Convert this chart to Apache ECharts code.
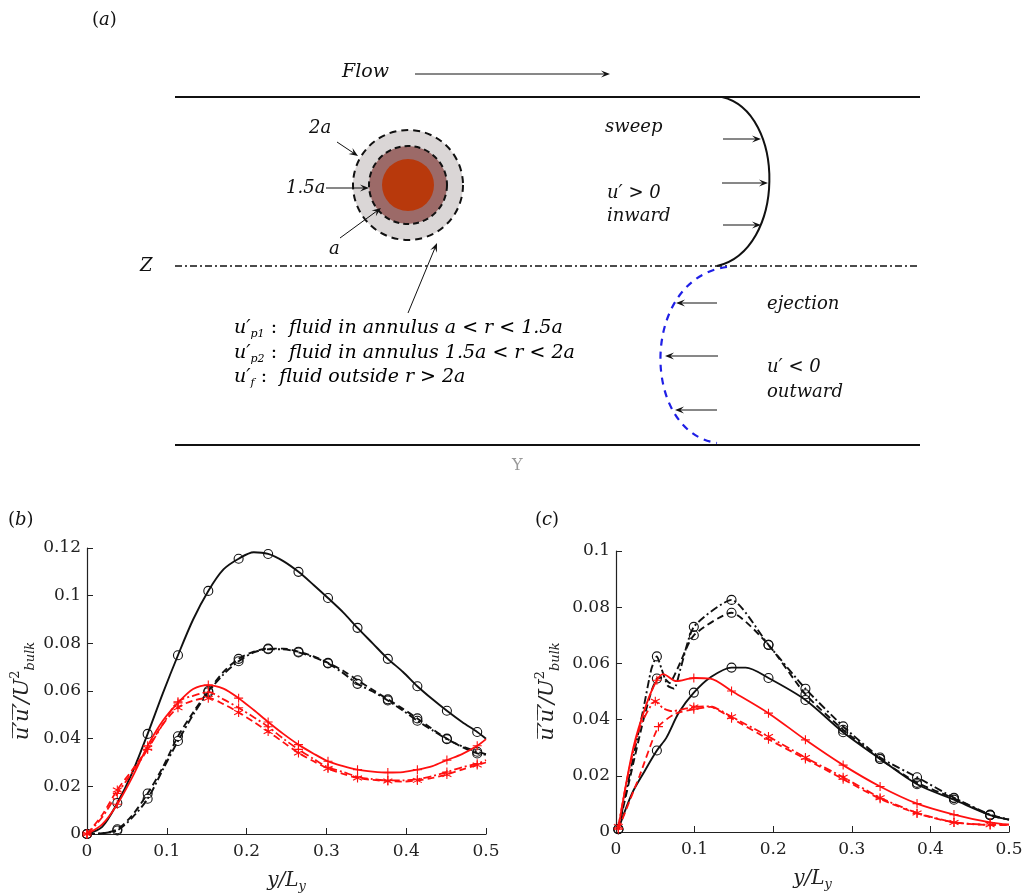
<!DOCTYPE html>
<html>
<head>
<meta charset="utf-8">
<script src="https://cdn.jsdelivr.net/npm/echarts@6/dist/echarts.min.js"></script>
<style>
html, body { margin: 0; padding: 0; background: #fff; }
#main { width: 1034px; height: 894px; }
</style>
</head>
<body>
<div id="main"></div>
<script>
// ---- panel (b) : abscissae shared by every curve, markers on every other point ----
const bX = [0, 0.019, 0.038, 0.057, 0.076, 0.095, 0.114, 0.133, 0.152, 0.171, 0.19, 0.209, 0.227, 0.246,
            0.265, 0.284, 0.302, 0.321, 0.339, 0.358, 0.377, 0.396, 0.414, 0.433, 0.451, 0.47, 0.489, 0.5];
const bMarkX = [0, 0.038, 0.076, 0.114, 0.152, 0.19, 0.227, 0.265, 0.302, 0.339, 0.377, 0.414, 0.451, 0.489];
const bBlackSolid   = [0, 0.003, 0.013, 0.026, 0.042, 0.059, 0.075, 0.090, 0.102, 0.111, 0.1155, 0.1182, 0.1175, 0.1145,
                       0.110, 0.1045, 0.099, 0.093, 0.0865, 0.080, 0.0735, 0.068, 0.062, 0.0565, 0.0517, 0.047, 0.0428, 0.040];
const bBlackDash    = [0, 0.0003, 0.002, 0.008, 0.017, 0.028, 0.041, 0.051, 0.060, 0.068, 0.0735, 0.0765, 0.0778, 0.0778,
                       0.0765, 0.0745, 0.0718, 0.0685, 0.0645, 0.0605, 0.0565, 0.0525, 0.0485, 0.044, 0.040, 0.0365, 0.0338, 0.0333];
const bBlackDashDot = [0, 0.0003, 0.0015, 0.007, 0.0148, 0.027, 0.039, 0.050, 0.0595, 0.067, 0.0725, 0.0762, 0.0775, 0.0775,
                       0.0762, 0.0742, 0.0716, 0.0675, 0.0630, 0.0598, 0.0560, 0.0518, 0.0475, 0.0435, 0.0398, 0.0368, 0.0345, 0.0335];
const bRedSolid     = [0, 0.004, 0.0125, 0.024, 0.037, 0.0475, 0.055, 0.0608, 0.0625, 0.061, 0.057, 0.052, 0.047, 0.042,
                       0.0375, 0.0337, 0.0305, 0.0285, 0.027, 0.0262, 0.0258, 0.026, 0.027, 0.0285, 0.031, 0.0335, 0.037, 0.0398];
const bRedDash      = [0, 0.008, 0.0185, 0.027, 0.036, 0.046, 0.053, 0.056, 0.057, 0.0545, 0.051, 0.047, 0.043, 0.0385,
                       0.034, 0.0305, 0.0275, 0.0252, 0.0235, 0.0227, 0.0222, 0.022, 0.0225, 0.0235, 0.025, 0.027, 0.029, 0.030];
const bRedDashDot   = [0, 0.007, 0.017, 0.026, 0.0355, 0.046, 0.0555, 0.058, 0.0595, 0.0565, 0.053, 0.049, 0.045, 0.040,
                       0.0355, 0.0315, 0.028, 0.026, 0.024, 0.023, 0.0225, 0.0225, 0.023, 0.0243, 0.026, 0.028, 0.0295, 0.031];

// ---- panel (c) : each curve has its own abscissae ----
const cMarkX = [0.003, 0.052, 0.099, 0.147, 0.194, 0.241, 0.289, 0.336, 0.383, 0.43, 0.476];

const cBlackSolidX = [0.003, 0.02, 0.035, 0.052, 0.064, 0.08, 0.099, 0.12, 0.147, 0.165, 0.194, 0.241, 0.289, 0.336, 0.383, 0.43, 0.476, 0.5];
const cBlackSolidY = [0.001, 0.0135, 0.021, 0.029, 0.0335, 0.0425, 0.0496, 0.055, 0.0585, 0.0585, 0.0548, 0.047, 0.0355, 0.026, 0.017, 0.0115, 0.006, 0.0044];

const cBlackDashDotX = [0.003, 0.02, 0.035, 0.045, 0.052, 0.058, 0.066, 0.074, 0.082, 0.099, 0.147, 0.194, 0.241, 0.289, 0.336, 0.383, 0.43, 0.476, 0.5];
const cBlackDashDotY = [0.001, 0.024, 0.044, 0.058, 0.0625, 0.058, 0.052, 0.051, 0.058, 0.073, 0.0826, 0.0666, 0.051, 0.0376, 0.0265, 0.0195, 0.0122, 0.0062, 0.0044];

const cBlackDashX = [0.003, 0.02, 0.035, 0.045, 0.052, 0.06, 0.068, 0.078, 0.099, 0.147, 0.194, 0.241, 0.289, 0.336, 0.383, 0.43, 0.476, 0.5];
const cBlackDashY = [0.001, 0.022, 0.040, 0.050, 0.0546, 0.055, 0.053, 0.058, 0.070, 0.078, 0.0666, 0.049, 0.0364, 0.026, 0.0175, 0.012, 0.006, 0.0044];

const cRedSolidX = [0.003, 0.022, 0.039, 0.052, 0.06, 0.077, 0.099, 0.12, 0.147, 0.194, 0.241, 0.289, 0.336, 0.383, 0.43, 0.476, 0.5];
const cRedSolidY = [0.0014, 0.030, 0.0457, 0.054, 0.0562, 0.0537, 0.0548, 0.0546, 0.0502, 0.0423, 0.0328, 0.0238, 0.0162, 0.0101, 0.0062, 0.0034, 0.0026];

const cRedDashDotX = [0.003, 0.015, 0.03, 0.05, 0.06, 0.071, 0.099, 0.12, 0.147, 0.194, 0.241, 0.289, 0.336, 0.383, 0.43, 0.476, 0.5];
const cRedDashDotY = [0.002, 0.020, 0.037, 0.0465, 0.044, 0.043, 0.0445, 0.0447, 0.041, 0.034, 0.0265, 0.0195, 0.0122, 0.0068, 0.0034, 0.0026, 0.0026];

const cRedDashX = [0.003, 0.03, 0.054, 0.075, 0.099, 0.12, 0.147, 0.194, 0.241, 0.289, 0.336, 0.383, 0.43, 0.476, 0.5];
const cRedDashY = [0.001, 0.020, 0.0375, 0.042, 0.0437, 0.0445, 0.0405, 0.0330, 0.0260, 0.0188, 0.0118, 0.0066, 0.0034, 0.0025, 0.0025];

const xTicks = ['0', '0.1', '0.2', '0.3', '0.4', '0.5'];

const BLACK = '#111';
const RED = '#ff1010';
const SERIF = '"DejaVu Serif"';

const SYM_CIRCLE = 'circle';
const SYM_PLUS = 'path://M0,5L10,5M5,0L5,10';
const SYM_STAR = 'path://M5,0L5,10M0.7,2.5L9.3,7.5M0.7,7.5L9.3,2.5';
const DASH = [7, 4];
const DASHDOT = [8, 3, 2, 3];

// line with markers; hasMark decides which points carry a symbol
function curve(gi, xs, ys, color, type, sym, hasMark, smooth) {
    return {
        type: 'line',
        xAxisIndex: gi,
        yAxisIndex: gi,
        data: xs.map((x, k) => [x, ys[k]]),
        smooth: smooth,
        symbol: (v) => hasMark(v[0]) ? sym : 'none',
        symbolSize: 9,
        showAllSymbol: true,
        lineStyle: { color: color, type: type, width: color === RED ? 1.8 : 1.9 },
        itemStyle: { color: sym === SYM_CIRCLE ? 'rgba(0,0,0,0)' : color, borderColor: color, borderWidth: 1.1 },
        emphasis: { disabled: true },
        z: color === RED ? 3 : 2
    };
}
const near = (list) => (x) => list.some(m => Math.abs(m - x) < 0.0025);
const bMark = near(bMarkX);
const cMark = near(cMarkX);

// ---- schematic (a) ----
function arrow(x1, y1, x2, y2, w) {
    const a = Math.atan2(y2 - y1, x2 - x1);
    const L = 9, W = 3.6;
    const c = Math.cos(a), s = Math.sin(a);
    const bx = x2 - L * c, by = y2 - L * s;
    return [
        { type: 'line', shape: { x1: x1, y1: y1, x2: x2 - 4 * c, y2: y2 - 4 * s }, style: { stroke: BLACK, lineWidth: w || 1 } },
        { type: 'polygon', shape: { points: [[x2, y2], [bx - s * W, by + c * W], [x2 - 0.6 * L * c, y2 - 0.6 * L * s], [bx + s * W, by - c * W]] }, style: { fill: BLACK } }
    ];
}
const itFont = 'italic 18px ' + SERIF;
function label(x, y, text, size) {
    return { type: 'text', x: x, y: y, style: { text: text, font: 'italic ' + (size || 18) + 'px ' + SERIF, fill: BLACK, verticalAlign: 'middle', align: 'left' } };
}
const subRich = {
    u: { fontFamily: SERIF, fontStyle: 'italic', fontSize: 19, lineHeight: 24 },
    s: { fontFamily: SERIF, fontStyle: 'italic', fontSize: 11, lineHeight: 13, verticalAlign: 'bottom' },
    t: { fontFamily: SERIF, fontStyle: 'italic', fontSize: 19, lineHeight: 24 },
    r: { fontFamily: SERIF, fontSize: 19, lineHeight: 24 }
};
function legendLine(y, sub, body) {
    return { type: 'text', x: 234, y: y, style: { text: '{u|u′}{s|' + sub + '}{r| :  }{t|' + body + '}', rich: subRich, verticalAlign: 'middle', align: 'left' } };
}
const panelRich = {
    p: { fontFamily: SERIF, fontSize: 18, fill: BLACK },
    i: { fontFamily: SERIF, fontStyle: 'italic', fontSize: 18, fill: BLACK }
};
function panelTag(x, y, ch) {
    return { type: 'text', x: x, y: y, style: { text: '{p|(}{i|' + ch + '}{p|)}', rich: panelRich, verticalAlign: 'middle', align: 'left' } };
}

const schematic = [
    panelTag(92, 20, 'a'),
    panelTag(8, 520, 'b'),
    panelTag(535, 520, 'c'),
    label(342, 72, 'Flow', 19),
    ...arrow(415, 74, 610, 74),
    { type: 'line', shape: { x1: 175, y1: 97, x2: 920, y2: 97 }, style: { stroke: BLACK, lineWidth: 2.2 } },
    { type: 'line', shape: { x1: 175, y1: 445, x2: 920, y2: 445 }, style: { stroke: BLACK, lineWidth: 2.2 } },
    { type: 'line', shape: { x1: 175, y1: 266, x2: 920, y2: 266 }, style: { stroke: BLACK, lineWidth: 1.6, lineDash: [7, 3, 2, 3] } },
    label(140, 266, 'Z'),
    // particle with annuli
    { type: 'circle', shape: { cx: 408, cy: 185, r: 55 }, style: { fill: '#dad6d6', stroke: BLACK, lineWidth: 2, lineDash: [7, 5] } },
    { type: 'circle', shape: { cx: 408, cy: 185, r: 39 }, style: { fill: '#9c6a68', stroke: BLACK, lineWidth: 2, lineDash: [6, 4] } },
    { type: 'circle', shape: { cx: 408, cy: 185, r: 26 }, style: { fill: '#b8390c' } },
    label(309, 128, '2a'),
    ...arrow(337, 142, 358, 156),
    label(286, 188, '1.5a'),
    ...arrow(326, 188, 369, 188),
    label(329, 249, 'a'),
    ...arrow(340, 238, 381, 208),
    ...arrow(408, 313, 437, 243),
    legendLine(328, 'p1', 'fluid in annulus a < r < 1.5a'),
    legendLine(353, 'p2', 'fluid in annulus 1.5a < r < 2a'),
    legendLine(377, 'f', 'fluid outside r > 2a'),
    // sweep profile
    { type: 'bezierCurve', shape: { x1: 722, y1: 97, cpx1: 786, cpy1: 112, cpx2: 786, cpy2: 250, x2: 717, y2: 266 }, style: { stroke: BLACK, lineWidth: 2, fill: null } },
    ...arrow(723, 139, 761, 139),
    ...arrow(722, 183, 768, 183),
    ...arrow(723, 225, 761, 225),
    label(605, 127, 'sweep'),
    label(607, 193, 'u′ > 0'),
    label(607, 216, 'inward'),
    // ejection profile
    { type: 'bezierCurve', shape: { x1: 727, y1: 267, cpx1: 640, cpy1: 278, cpx2: 640, cpy2: 432, x2: 717, y2: 443 }, style: { stroke: '#1f1fe6', lineWidth: 2.2, lineDash: [7, 6], fill: null } },
    ...arrow(717, 303, 676, 303),
    ...arrow(718, 356, 665, 356),
    ...arrow(717, 410, 675, 410),
    label(767, 304, 'ejection'),
    label(767, 367, 'u′ < 0'),
    label(767, 392, 'outward'),
    { type: 'text', x: 512, y: 466, style: { text: 'Y', font: '16px ' + SERIF, fill: '#999', verticalAlign: 'middle' } }
];

// ---- axes ----
const axisFont = { fontFamily: SERIF, fontSize: 17, color: '#222' };
function xAxisOf(gi) {
    return {
        type: 'value', gridIndex: gi, min: 0, max: 0.5, interval: 0.1,
        axisLine: { onZero: false, lineStyle: { color: '#222', width: 1.2 } },
        axisTick: { inside: true, length: 6, lineStyle: { color: '#222' } },
        splitLine: { show: false },
        axisLabel: Object.assign({ margin: 9, formatter: (v) => xTicks[Math.round(v * 10)] }, axisFont),
        name: '{i|y/L}{s|y}',
        nameLocation: 'middle', nameGap: 34,
        nameTextStyle: {
            rich: {
                i: { fontFamily: SERIF, fontStyle: 'italic', fontSize: 20, lineHeight: 25, color: '#222' },
                s: { fontFamily: SERIF, fontStyle: 'italic', fontSize: 13, lineHeight: 13, verticalAlign: 'bottom', color: '#222' }
            }
        }
    };
}
function yAxisOf(gi, max, gap) {
    return {
        type: 'value', gridIndex: gi, min: 0, max: max, interval: 0.02,
        axisLine: { show: true, onZero: false, lineStyle: { color: '#222', width: 1.2 } },
        axisTick: { show: true, inside: true, length: 6, lineStyle: { color: '#222' } },
        splitLine: { show: false },
        axisLabel: Object.assign({ margin: 6 }, axisFont),
        name: '{o|u\u0305\u2032\u0305u\u0305\u2032\u0305}{n|/U}{p|2}{s|bulk}',
        nameLocation: 'middle', nameRotate: 90, nameGap: gap,
        nameTextStyle: {
            rich: {
                o: { fontFamily: SERIF, fontStyle: 'italic', fontSize: 21, lineHeight: 28, color: '#222' },
                n: { fontFamily: SERIF, fontStyle: 'italic', fontSize: 21, lineHeight: 28, color: '#222' },
                p: { fontFamily: SERIF, fontSize: 13, lineHeight: 13, verticalAlign: 'top', color: '#222' },
                s: { fontFamily: SERIF, fontStyle: 'italic', fontSize: 13, lineHeight: 13, verticalAlign: 'bottom', color: '#222' }
            }
        }
    };
}

const chart = echarts.init(document.getElementById('main'));
chart.setOption({
    animation: false,
    backgroundColor: '#fff',
    graphic: { elements: schematic },
    grid: [
        { left: 87, top: 548, width: 399, height: 287 },
        { left: 616, top: 551, width: 393, height: 281 }
    ],
    xAxis: [xAxisOf(0), xAxisOf(1)],
    yAxis: [yAxisOf(0, 0.12, 50), yAxisOf(1, 0.1, 54)],
    series: [
        curve(0, bX, bBlackSolid, BLACK, 'solid', SYM_CIRCLE, bMark, 0.3),
        curve(0, bX, bBlackDash, BLACK, DASH, SYM_CIRCLE, bMark, 0.3),
        curve(0, bX, bBlackDashDot, BLACK, DASHDOT, SYM_CIRCLE, bMark, 0.3),
        curve(0, bX, bRedSolid, RED, 'solid', SYM_PLUS, bMark, 0.3),
        curve(0, bX, bRedDash, RED, DASH, SYM_STAR, bMark, 0.3),
        curve(0, bX, bRedDashDot, RED, DASHDOT, SYM_PLUS, bMark, 0.3),

        curve(1, cBlackSolidX, cBlackSolidY, BLACK, 'solid', SYM_CIRCLE, cMark, 0.3),
        curve(1, cBlackDashX, cBlackDashY, BLACK, DASH, SYM_CIRCLE, cMark, 0.2),
        curve(1, cBlackDashDotX, cBlackDashDotY, BLACK, DASHDOT, SYM_CIRCLE, cMark, 0.2),
        curve(1, cRedSolidX, cRedSolidY, RED, 'solid', SYM_PLUS, cMark, 0.3),
        curve(1, cRedDashX, cRedDashY, RED, DASH, SYM_PLUS, cMark, 0.2),
        curve(1, cRedDashDotX, cRedDashDotY, RED, DASHDOT, SYM_STAR, cMark, 0.2)
    ]
});
</script>
</body>
</html>
